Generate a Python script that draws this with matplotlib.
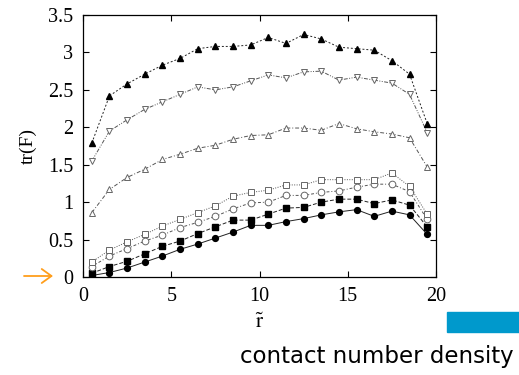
import matplotlib
matplotlib.use("Agg")
import matplotlib.pyplot as plt
from matplotlib.patches import Rectangle, FancyArrowPatch

r = [0.5, 1.5, 2.5, 3.5, 4.5, 5.5, 6.5, 7.5, 8.5, 9.5,
     10.5, 11.5, 12.5, 13.5, 14.5, 15.5, 16.5, 17.5, 18.5, 19.5]

filled_circle = [0.02, 0.06, 0.12, 0.20, 0.28, 0.37, 0.44, 0.52, 0.60, 0.69,
                 0.69, 0.74, 0.78, 0.83, 0.87, 0.90, 0.81, 0.88, 0.83, 0.57]
filled_square = [0.05, 0.14, 0.21, 0.31, 0.41, 0.48, 0.58, 0.67, 0.76, 0.76,
                 0.84, 0.92, 0.93, 1.00, 1.04, 1.04, 0.98, 1.03, 0.96, 0.67]
open_circle = [0.14, 0.28, 0.38, 0.48, 0.56, 0.66, 0.73, 0.81, 0.91, 0.99,
               1.00, 1.09, 1.09, 1.13, 1.15, 1.20, 1.24, 1.24, 1.14, 0.77]
open_square = [0.20, 0.36, 0.47, 0.57, 0.68, 0.77, 0.86, 0.95, 1.08, 1.13,
               1.16, 1.23, 1.23, 1.30, 1.30, 1.30, 1.30, 1.39, 1.21, 0.84]
up_triangle = [0.86, 1.17, 1.33, 1.44, 1.57, 1.64, 1.72, 1.76, 1.84, 1.89,
               1.90, 1.99, 1.99, 1.96, 2.05, 1.98, 1.94, 1.91, 1.86, 1.47]
down_triangle = [1.55, 1.95, 2.10, 2.24, 2.34, 2.44, 2.54, 2.50, 2.54, 2.62,
                 2.70, 2.66, 2.74, 2.75, 2.63, 2.67, 2.63, 2.59, 2.44, 1.93]
filled_triangle = [1.79, 2.42, 2.58, 2.71, 2.83, 2.92, 3.05, 3.08, 3.08, 3.10,
                   3.20, 3.12, 3.24, 3.18, 3.07, 3.05, 3.03, 2.89, 2.71, 2.05]

plt.rcParams['font.family'] = ['Liberation Serif', 'DejaVu Serif']
plt.rcParams['mathtext.fontset'] = 'stix'

W, H = 519, 375
fig = plt.figure(figsize=(W / 100, H / 100), dpi=100)
ax = fig.add_axes([83 / W, 1 - 277 / H, 353 / W, 262 / H])

# (values, marker, filled, linestyle)
series = [
    (filled_circle, 'o', True, '-'),
    (filled_square, 's', True, (0, (4, 2))),
    (open_circle, 'o', False, (0, (3, 2, 1, 2))),
    (open_square, 's', False, (0, (1, 1.5))),
    (up_triangle, '^', False, (0, (4, 2, 1, 2))),
    (down_triangle, 'v', False, (0, (4, 1.5, 1, 1.5, 1, 1.5))),
    (filled_triangle, '^', True, (0, (2, 2))),
]

for vals, m, filled, ls in series:
    if filled:
        ax.plot(r, vals, color='#222222', linestyle=ls, linewidth=0.7,
                marker=m, markersize=4.2, markerfacecolor='black',
                markeredgecolor='black')
    else:
        ax.plot(r, vals, color='#555555', linestyle=ls, linewidth=0.7,
                marker=m, markersize=4.8, markerfacecolor='white',
                markeredgecolor='#666666', markeredgewidth=0.7)

ax.set_xlim(0, 20)
ax.set_ylim(0, 3.5)
ax.set_xticks([0, 5, 10, 15, 20])
ax.set_xticklabels(['0', '5', '10', '15', '20'])
ax.set_yticks([0, 0.5, 1, 1.5, 2, 2.5, 3, 3.5])
ax.set_yticklabels(['0', '0.5', '1', '1.5', '2', '2.5', '3', '3.5'])
ax.tick_params(direction='in', top=True, right=True, length=4, width=0.8,
               labelsize=14.5, pad=7)
for s in ax.spines.values():
    s.set_linewidth(0.9)

ax.set_ylabel('tr(F)', fontsize=14, labelpad=8)
ax.set_xlabel(r'$\tilde{\mathrm{r}}$', fontsize=15, labelpad=6)

# orange arrow pointing at zero on the y axis
fig.patches.append(FancyArrowPatch(
    (24 / W, 1 - 276 / H), (53 / W, 1 - 276 / H),
    transform=fig.transFigure, shrinkA=0, shrinkB=0,
    arrowstyle='->,head_length=0.5,head_width=0.36', mutation_scale=14,
    color='#FF9E1B', linewidth=1.3))

fig.patches.append(Rectangle((447 / W, 1 - 332 / H), 72 / W, 20 / H,
                             transform=fig.transFigure, color='#0099CC'))
fig.text(514 / W, 1 - 357 / H, 'contact number density', ha='right',
         va='center', fontsize=16.5, family='DejaVu Sans')

fig.savefig('out.png', dpi=100)
